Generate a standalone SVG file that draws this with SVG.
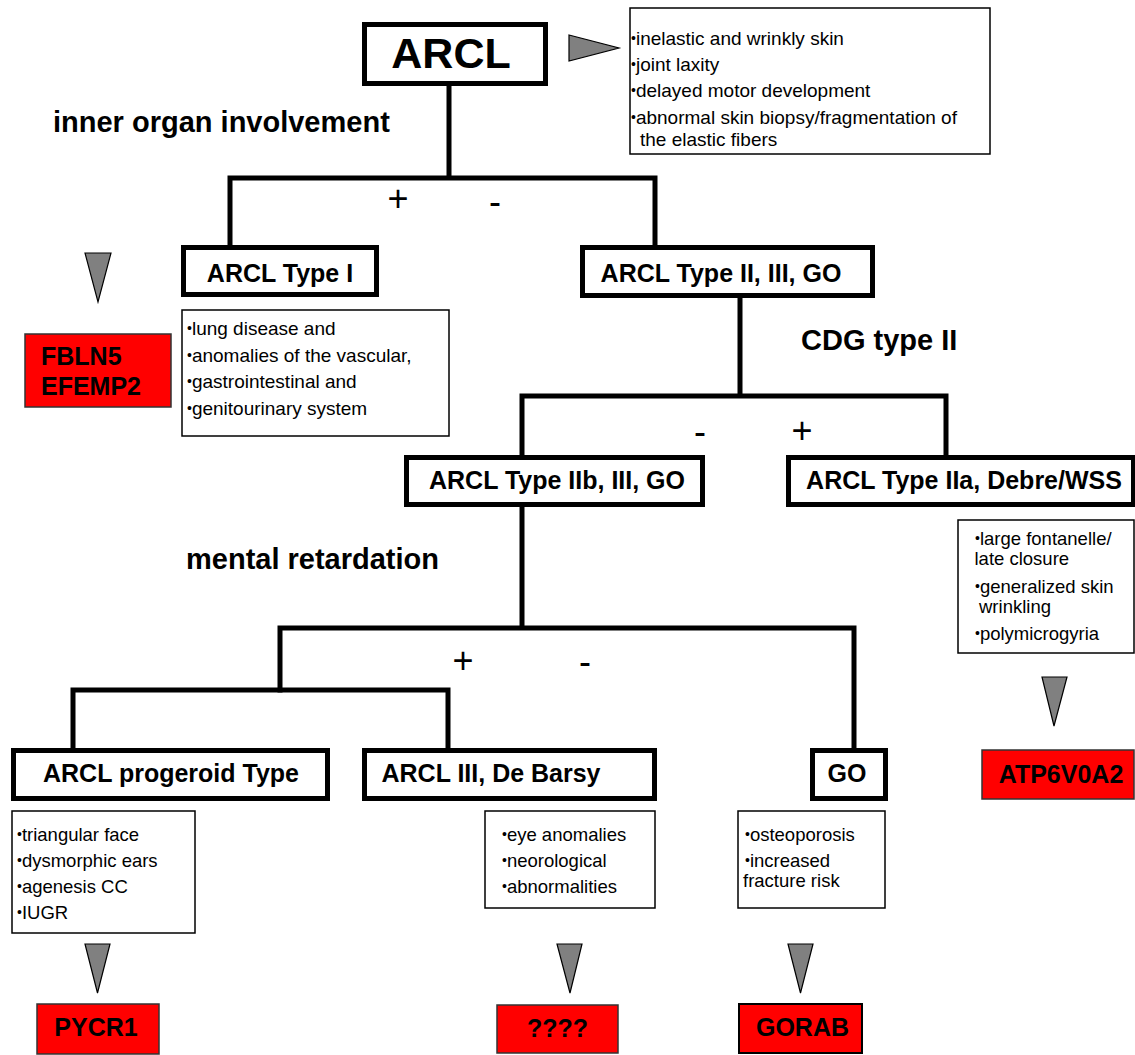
<svg xmlns="http://www.w3.org/2000/svg" width="1135" height="1055" viewBox="0 0 1135 1055">
<style>
.node rect{fill:#fff;stroke:#000;stroke-width:5}
.lbl{font-family:"Liberation Sans",Arial,sans-serif;font-weight:bold;font-size:25px;fill:#000;text-anchor:middle}
.gene rect{fill:#ff0000;stroke:#333;stroke-width:1.5}
.gtxt{font-family:"Liberation Sans",Arial,sans-serif;font-weight:bold;font-size:25px;fill:#000}
.list rect{fill:#fff;stroke:#000;stroke-width:1.5}
.ltxt{font-family:"Liberation Sans",Arial,sans-serif;font-size:18.5px;fill:#000}
.bl{font-size:14px}
.tri{fill:#808080;stroke:#000;stroke-width:1.2;stroke-linejoin:miter}
.crit{font-family:"Liberation Sans",Arial,sans-serif;font-weight:bold;font-size:29px;fill:#000}
.sign{font-family:"Liberation Sans",Arial,sans-serif;font-size:36px;fill:#000;text-anchor:middle}
#connectors path{fill:none;stroke:#000;stroke-width:5;stroke-linecap:square;stroke-linejoin:miter}
</style>

<g id="connectors">
<path d="M449,86 V178 M230,247 V178 H655 V247"/>
<path d="M740,298 V396 M522,455 V396 H946 V455"/>
<path d="M522,507 V628 M280,690 V628 H854 V748"/>
<path d="M73,748 V690 H448 V748"/>
</g>

<g id="criteria">
<text class="crit" x="53" y="132">inner organ involvement</text>
<text class="crit" x="801" y="350">CDG type II</text>
<text class="crit" x="186" y="569">mental retardation</text>
<text class="sign" x="398" y="211">+</text>
<text class="sign" x="495" y="214">-</text>
<text class="sign" x="700" y="444">-</text>
<text class="sign" x="802" y="443">+</text>
<text class="sign" x="463" y="673">+</text>
<text class="sign" x="585" y="674">-</text>
</g>

<g id="n-arcl" class="node">
<rect x="364.5" y="24.5" width="181" height="59"/>
<text class="lbl" x="451" y="68" style="font-size:43px">ARCL</text>
</g>
<g id="n-type1" class="node">
<rect x="183.5" y="247.5" width="193" height="47"/>
<text class="lbl" x="280" y="282">ARCL Type I</text>
</g>
<g id="n-type2" class="node">
<rect x="582.5" y="247.5" width="290" height="48"/>
<text class="lbl" x="721" y="282">ARCL Type II, III, GO</text>
</g>
<g id="n-type2b" class="node">
<rect x="406.5" y="457.5" width="296" height="47"/>
<text class="lbl" x="557" y="489">ARCL Type IIb, III, GO</text>
</g>
<g id="n-type2a" class="node">
<rect x="788.5" y="457.5" width="345" height="47"/>
<text class="lbl" x="964" y="489">ARCL Type IIa, Debre/WSS</text>
</g>
<g id="n-progeroid" class="node">
<rect x="13.5" y="750.5" width="314" height="48"/>
<text class="lbl" x="171" y="782">ARCL progeroid Type</text>
</g>
<g id="n-debarsy" class="node">
<rect x="364.5" y="750.5" width="290" height="48"/>
<text class="lbl" x="491" y="782">ARCL III, De Barsy</text>
</g>
<g id="n-go" class="node">
<rect x="812.5" y="750.5" width="73" height="48"/>
<text class="lbl" x="847" y="782">GO</text>
</g>

<g id="l-arcl" class="list">
<rect x="630" y="8" width="360" height="146"/>
<text class="ltxt" style="font-size:19px" x="631" y="45"><tspan class="bl" dy="-2">•</tspan><tspan dy="2">inelastic and wrinkly skin</tspan></text>
<text class="ltxt" style="font-size:19px" x="631" y="71"><tspan class="bl" dy="-2">•</tspan><tspan dy="2">joint laxity</tspan></text>
<text class="ltxt" style="font-size:19px" x="631" y="97"><tspan class="bl" dy="-2">•</tspan><tspan dy="2">delayed motor development</tspan></text>
<text class="ltxt" style="font-size:19px" x="631" y="124"><tspan class="bl" dy="-2">•</tspan><tspan dy="2">abnormal skin biopsy/fragmentation of</tspan></text>
<text class="ltxt" style="font-size:19px" x="640" y="146">the elastic fibers</text>
</g>
<g id="l-type1" class="list">
<rect x="182" y="310" width="267" height="126"/>
<text class="ltxt" style="font-size:19px" x="187" y="335"><tspan class="bl" dy="-2">•</tspan><tspan dy="2">lung disease and</tspan></text>
<text class="ltxt" style="font-size:19px" x="187" y="362"><tspan class="bl" dy="-2">•</tspan><tspan dy="2">anomalies of the vascular,</tspan></text>
<text class="ltxt" style="font-size:19px" x="187" y="388"><tspan class="bl" dy="-2">•</tspan><tspan dy="2">gastrointestinal and</tspan></text>
<text class="ltxt" style="font-size:19px" x="187" y="415"><tspan class="bl" dy="-2">•</tspan><tspan dy="2">genitourinary system</tspan></text>
</g>
<g id="l-type2a" class="list">
<rect x="958" y="520" width="176" height="133"/>
<text class="ltxt" x="975" y="545"><tspan class="bl" dy="-2">•</tspan><tspan dy="2">large fontanelle/</tspan></text>
<text class="ltxt" x="974.5" y="565">late closure</text>
<text class="ltxt" x="975" y="593"><tspan class="bl" dy="-2">•</tspan><tspan dy="2">generalized skin</tspan></text>
<text class="ltxt" x="979" y="613">wrinkling</text>
<text class="ltxt" x="975" y="640"><tspan class="bl" dy="-2">•</tspan><tspan dy="2">polymicrogyria</tspan></text>
</g>
<g id="l-progeroid" class="list">
<rect x="12" y="811" width="183" height="122"/>
<text class="ltxt" x="17" y="841"><tspan class="bl" dy="-2">•</tspan><tspan dy="2">triangular face</tspan></text>
<text class="ltxt" x="17" y="867"><tspan class="bl" dy="-2">•</tspan><tspan dy="2">dysmorphic ears</tspan></text>
<text class="ltxt" x="17" y="893"><tspan class="bl" dy="-2">•</tspan><tspan dy="2">agenesis CC</tspan></text>
<text class="ltxt" x="17" y="919"><tspan class="bl" dy="-2">•</tspan><tspan dy="2">IUGR</tspan></text>
</g>
<g id="l-debarsy" class="list">
<rect x="485" y="811" width="170" height="97"/>
<text class="ltxt" x="502" y="841"><tspan class="bl" dy="-2">•</tspan><tspan dy="2">eye anomalies</tspan></text>
<text class="ltxt" x="502" y="867"><tspan class="bl" dy="-2">•</tspan><tspan dy="2">neorological</tspan></text>
<text class="ltxt" x="502" y="893"><tspan class="bl" dy="-2">•</tspan><tspan dy="2">abnormalities</tspan></text>
</g>
<g id="l-go" class="list">
<rect x="738" y="811" width="147" height="97"/>
<text class="ltxt" x="745" y="841"><tspan class="bl" dy="-2">•</tspan><tspan dy="2">osteoporosis</tspan></text>
<text class="ltxt" x="745" y="867"><tspan class="bl" dy="-2">•</tspan><tspan dy="2">increased</tspan></text>
<text class="ltxt" x="743" y="887">fracture risk</text>
</g>

<g id="arrows">
<polygon class="tri" points="569,35 619,48 569,61"/>
<polygon class="tri" points="85,253 111,253 98,302"/>
<polygon class="tri" points="85,944 110,944 97.5,993"/>
<polygon class="tri" points="557,944 582,944 570,993"/>
<polygon class="tri" points="788,944 813,944 800.5,993"/>
<polygon class="tri" points="1042,677 1067,677 1054,726"/>
</g>

<g id="g-fbln5" class="gene">
<rect x="25" y="334" width="146" height="73"/>
<text class="gtxt" x="41" y="365">FBLN5</text>
<text class="gtxt" x="41" y="395">EFEMP2</text>
</g>
<g id="g-pycr1" class="gene">
<rect x="37" y="1004" width="122" height="50"/>
<text class="gtxt" x="96" y="1036" text-anchor="middle">PYCR1</text>
</g>
<g id="g-unknown" class="gene">
<rect x="497" y="1005" width="121" height="48"/>
<text class="gtxt" x="557.5" y="1037" text-anchor="middle">????</text>
</g>
<g id="g-gorab" class="gene">
<rect x="739" y="1004" width="123" height="49" style="stroke:#000;stroke-width:2"/>
<text class="gtxt" x="802.5" y="1036" text-anchor="middle">GORAB</text>
</g>
<g id="g-atp" class="gene">
<rect x="982" y="750" width="152" height="49"/>
<text class="gtxt" x="1061" y="783" text-anchor="middle">ATP6V0A2</text>
</g>
</svg>
